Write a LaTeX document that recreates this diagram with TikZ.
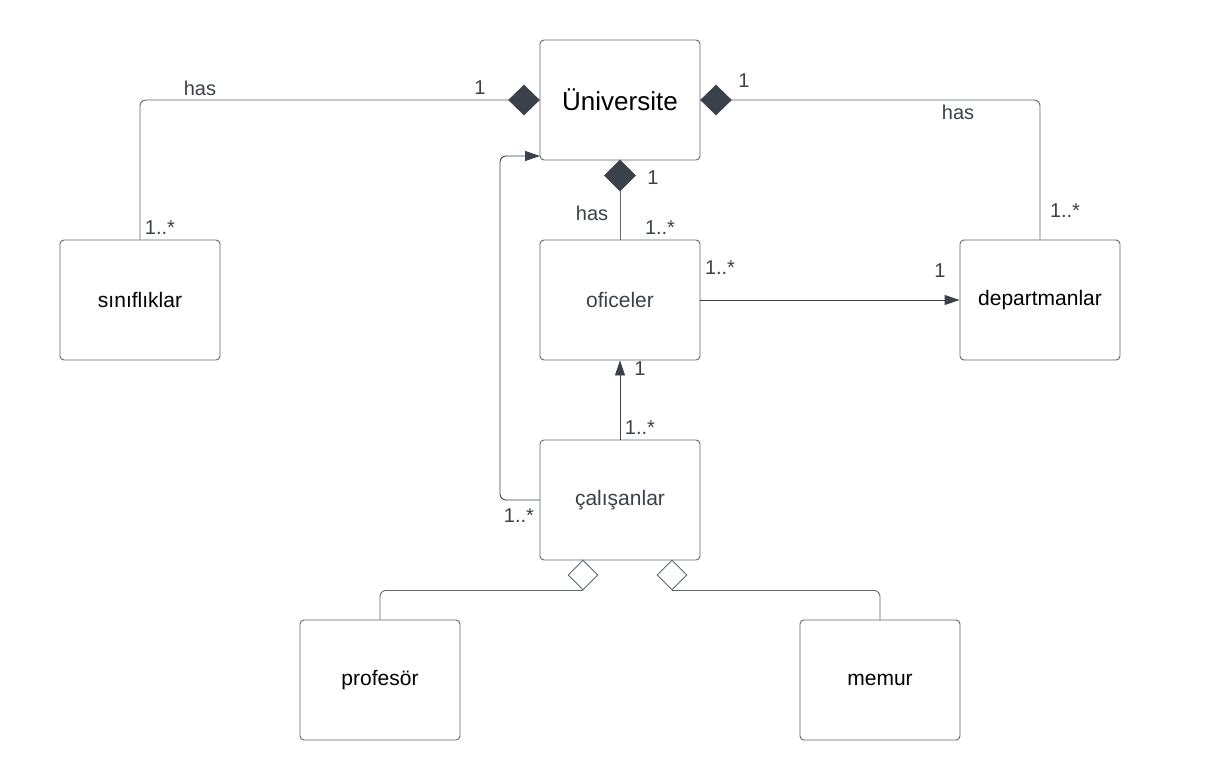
\documentclass[tikz,border=0pt]{standalone}
\usepackage{fontspec}
\setmainfont{Liberation Sans}
\usetikzlibrary{shapes.geometric,arrows.meta}
\definecolor{ink}{HTML}{3A414A}
\definecolor{edge}{HTML}{5E6670}
\tikzset{
  cls/.style={draw=edge, line width=0.9pt, rounded corners=4pt, minimum width=160pt, minimum height=120pt, inner sep=0pt, font=\fontsize{21}{25}\selectfont, text=black},
  clsg/.style={cls, text=ink},
  fdia/.style={diamond, draw=ink, fill=ink, minimum width=31pt, minimum height=30pt, inner sep=0pt, line width=0.6pt},
  hdia/.style={diamond, draw=edge, fill=white, minimum width=30pt, minimum height=30pt, inner sep=0pt, line width=0.9pt},
  link/.style={draw=edge, line width=0.9pt, rounded corners=6pt},
  arr/.style={draw=ink, line width=0.9pt, rounded corners=6pt, -{Triangle[length=15pt,width=10pt]}},
  lbl/.style={font=\fontsize{20}{24}\selectfont, text=ink, inner sep=0pt}
}
\begin{document}
\begin{tikzpicture}[x=1pt,y=-1pt]
\useasboundingbox[fill=white] (0,0) rectangle (1225,780);
% classes
\node[cls, font=\fontsize{26}{30}\selectfont] (univ) at (620,100) {Üniversite};
\node[clsg] (ofic) at (620,300) {oficeler};
\node[clsg] (calis) at (620,500) {çalışanlar};
\node[cls] (sinif) at (140,300) {sınıflıklar};
\node[cls] (dept) at (1040,300) {departmanlar};
\node[cls] (prof) at (380,680) {profesör};
\node[cls] (memur) at (880,680) {memur};
% diamonds
\node[fdia] (dL) at (524,100) {};
\node[fdia] (dR) at (716,100) {};
\node[fdia, minimum width=31pt, minimum height=31pt] (dB) at (620,175.5) {};
\node[hdia] (hL) at (583,575) {};
\node[hdia] (hR) at (672,575) {};
% helper coordinates
\coordinate (bend) at (500,500);
\coordinate (uin) at (540,156);
% connectors
\draw[link] (dL.west) -| (sinif.north);
\draw[link] (dR.east) -| (dept.north);
\draw[link] (dB.south) -- (ofic.north);
\draw[arr] (ofic.east) -- (dept.west);
\draw[arr] (calis.north) -- (ofic.south);
\draw[arr] (calis.west) -- (bend) |- (uin);
\draw[link] (hL.south) -| (prof.north);
\draw[link] (hR.south) -| (memur.north);
% labels
\node[lbl] (t1) at (200,88) {has};
\node[lbl] (t2) at (480,88) {1};
\node[lbl] (t3) at (160,228) {1..*};
\node[lbl] (t4) at (744,81) {1};
\node[lbl] (t5) at (958,112) {has};
\node[lbl] (t6) at (1065,211) {1..*};
\node[lbl] (t7) at (653,178) {1};
\node[lbl] (t8) at (592,213) {has};
\node[lbl] (t9) at (660,228) {1..*};
\node[lbl] (t10) at (720,268) {1..*};
\node[lbl] (t11) at (940,271) {1};
\node[lbl] (t12) at (640,369) {1};
\node[lbl] (t13) at (640,428) {1..*};
\node[lbl] (t14) at (519,516) {1..*};
\end{tikzpicture}
\end{document}
